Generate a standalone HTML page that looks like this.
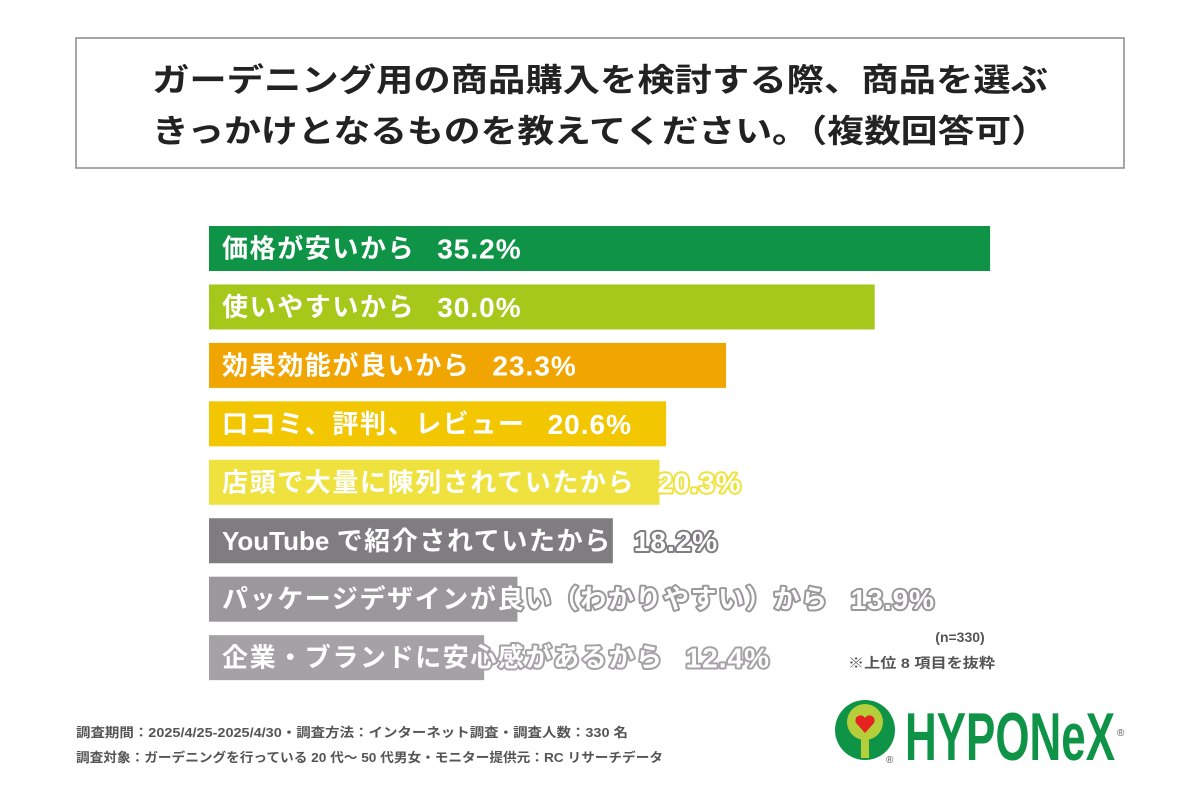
<!DOCTYPE html>
<html><head><meta charset="utf-8">
<style>
body{margin:0;width:1200px;height:800px;background:#fff;overflow:hidden;font-family:"Liberation Sans","Noto Sans CJK JP",sans-serif;}
svg text{font-family:"Liberation Sans","Noto Sans CJK JP",sans-serif;}
</style></head>
<body>
<svg id="chart" width="1200" height="800" xmlns="http://www.w3.org/2000/svg">
<rect x="76" y="38" width="1048" height="130" fill="#fff" stroke="#8a8a8a" stroke-width="1.5"/>
<text x="152" y="91" font-size="32" font-weight="bold" fill="#222" textLength="896" lengthAdjust="spacingAndGlyphs">ガーデニング用の商品購入を検討する際、商品を選ぶ</text>
<text x="152" y="142" font-size="32" font-weight="bold" fill="#222" textLength="896" lengthAdjust="spacingAndGlyphs">きっかけとなるものを教えてください。（複数回答可）</text>
<g id="bars"></g>
<text x="960" y="642" text-anchor="middle" font-size="14" font-weight="bold" fill="#555">(n=330)</text>
<text x="848" y="668" font-size="14" font-weight="bold" fill="#555" textLength="147" lengthAdjust="spacingAndGlyphs">※上位 8 項目を抜粋</text>
<text x="76" y="737" font-size="13" font-weight="bold" fill="#555" textLength="552" lengthAdjust="spacingAndGlyphs">調査期間：2025/4/25-2025/4/30・調査方法：インターネット調査・調査人数：330 名</text>
<text x="76" y="762" font-size="13" font-weight="bold" fill="#555" textLength="587" lengthAdjust="spacingAndGlyphs">調査対象：ガーデニングを行っている 20 代～ 50 代男女・モニター提供元：RC リサーチデータ</text>
<g>
<circle cx="865" cy="730" r="30" fill="#0f9447"/>
<circle cx="865" cy="722" r="18" fill="#b5cf3a"/>
<rect x="861" y="730" width="8" height="28" fill="#b5cf3a"/>
<path d="M865 733 l-9 -10 a5 5 0 0 1 9 -5 a5 5 0 0 1 9 5 z" fill="#e52421"/>
<text x="905" y="760" font-size="68" font-weight="bold" fill="#0f9447" textLength="210" lengthAdjust="spacingAndGlyphs">HYPONeX</text>
<text x="1117" y="736" font-size="10" fill="#555">®</text>
<text x="886" y="763" font-size="10" fill="#555">®</text>
</g>
</svg>
<script>
const categories=["価格が安いから","使いやすいから","効果効能が良いから","口コミ、評判、レビュー","店頭で大量に陳列されていたから","YouTube で紹介されていたから","パッケージデザインが良い（わかりやすい）から","企業・ブランドに安心感があるから"];
const values=[35.2,30.0,23.3,20.6,20.3,18.2,13.9,12.4];
const valueLabels=["35.2%","30.0%","23.3%","20.6%","20.3%","18.2%","13.9%","12.4%"];
const colors=["#0f9447","#a6c81a","#f0a500","#f2c600","#f0e23e","#7f7d80","#9a989a","#a4a2a4"];
const x0=209, pxPer=22.19, y0=226, step=58.45, bh=45;
const xs=v=>v*pxPer;
const g=document.getElementById('bars');
const NS="http://www.w3.org/2000/svg";
function styleText(t,col){
  t.setAttribute('font-weight','bold');
  t.setAttribute('fill','#fff');t.setAttribute('stroke',col);t.setAttribute('stroke-width','4');t.setAttribute('paint-order','stroke');t.setAttribute('stroke-linejoin','round');
}
categories.forEach((c,i)=>{
  const y=y0+i*step;
  const r=document.createElementNS(NS,'rect');
  r.setAttribute('x',x0);r.setAttribute('y',y);r.setAttribute('width',xs(values[i]));r.setAttribute('height',bh);r.setAttribute('fill',colors[i]);
  
  
  g.appendChild(r);
  const t=document.createElementNS(NS,'text');
  t.setAttribute('x',222);t.setAttribute('y',y+bh/2+9);t.setAttribute('font-size','26');
  styleText(t,colors[i]);
  // split Latin runs (no extra spacing) from CJK runs
  const parts=c.match(/[A-Za-z0-9 ]+|[^A-Za-z0-9 ]+/g);
  parts.forEach(p=>{
    const s=document.createElementNS(NS,'tspan');
    s.setAttribute('letter-spacing',/[A-Za-z]/.test(p)?'0':'1.6');
    s.textContent=p;
    t.appendChild(s);
  });
  t.setAttribute('xml:space','preserve');
  
  
  g.appendChild(t);
  const w=t.getComputedTextLength();
  const v=document.createElementNS(NS,'text');
  v.setAttribute('x',222+w+22);v.setAttribute('y',y+bh/2+10);v.setAttribute('font-size','28');v.setAttribute('letter-spacing','1');
  styleText(v,colors[i]);
  v.textContent=valueLabels[i];
  
  
  g.appendChild(v);
});
</script>
</body></html>
